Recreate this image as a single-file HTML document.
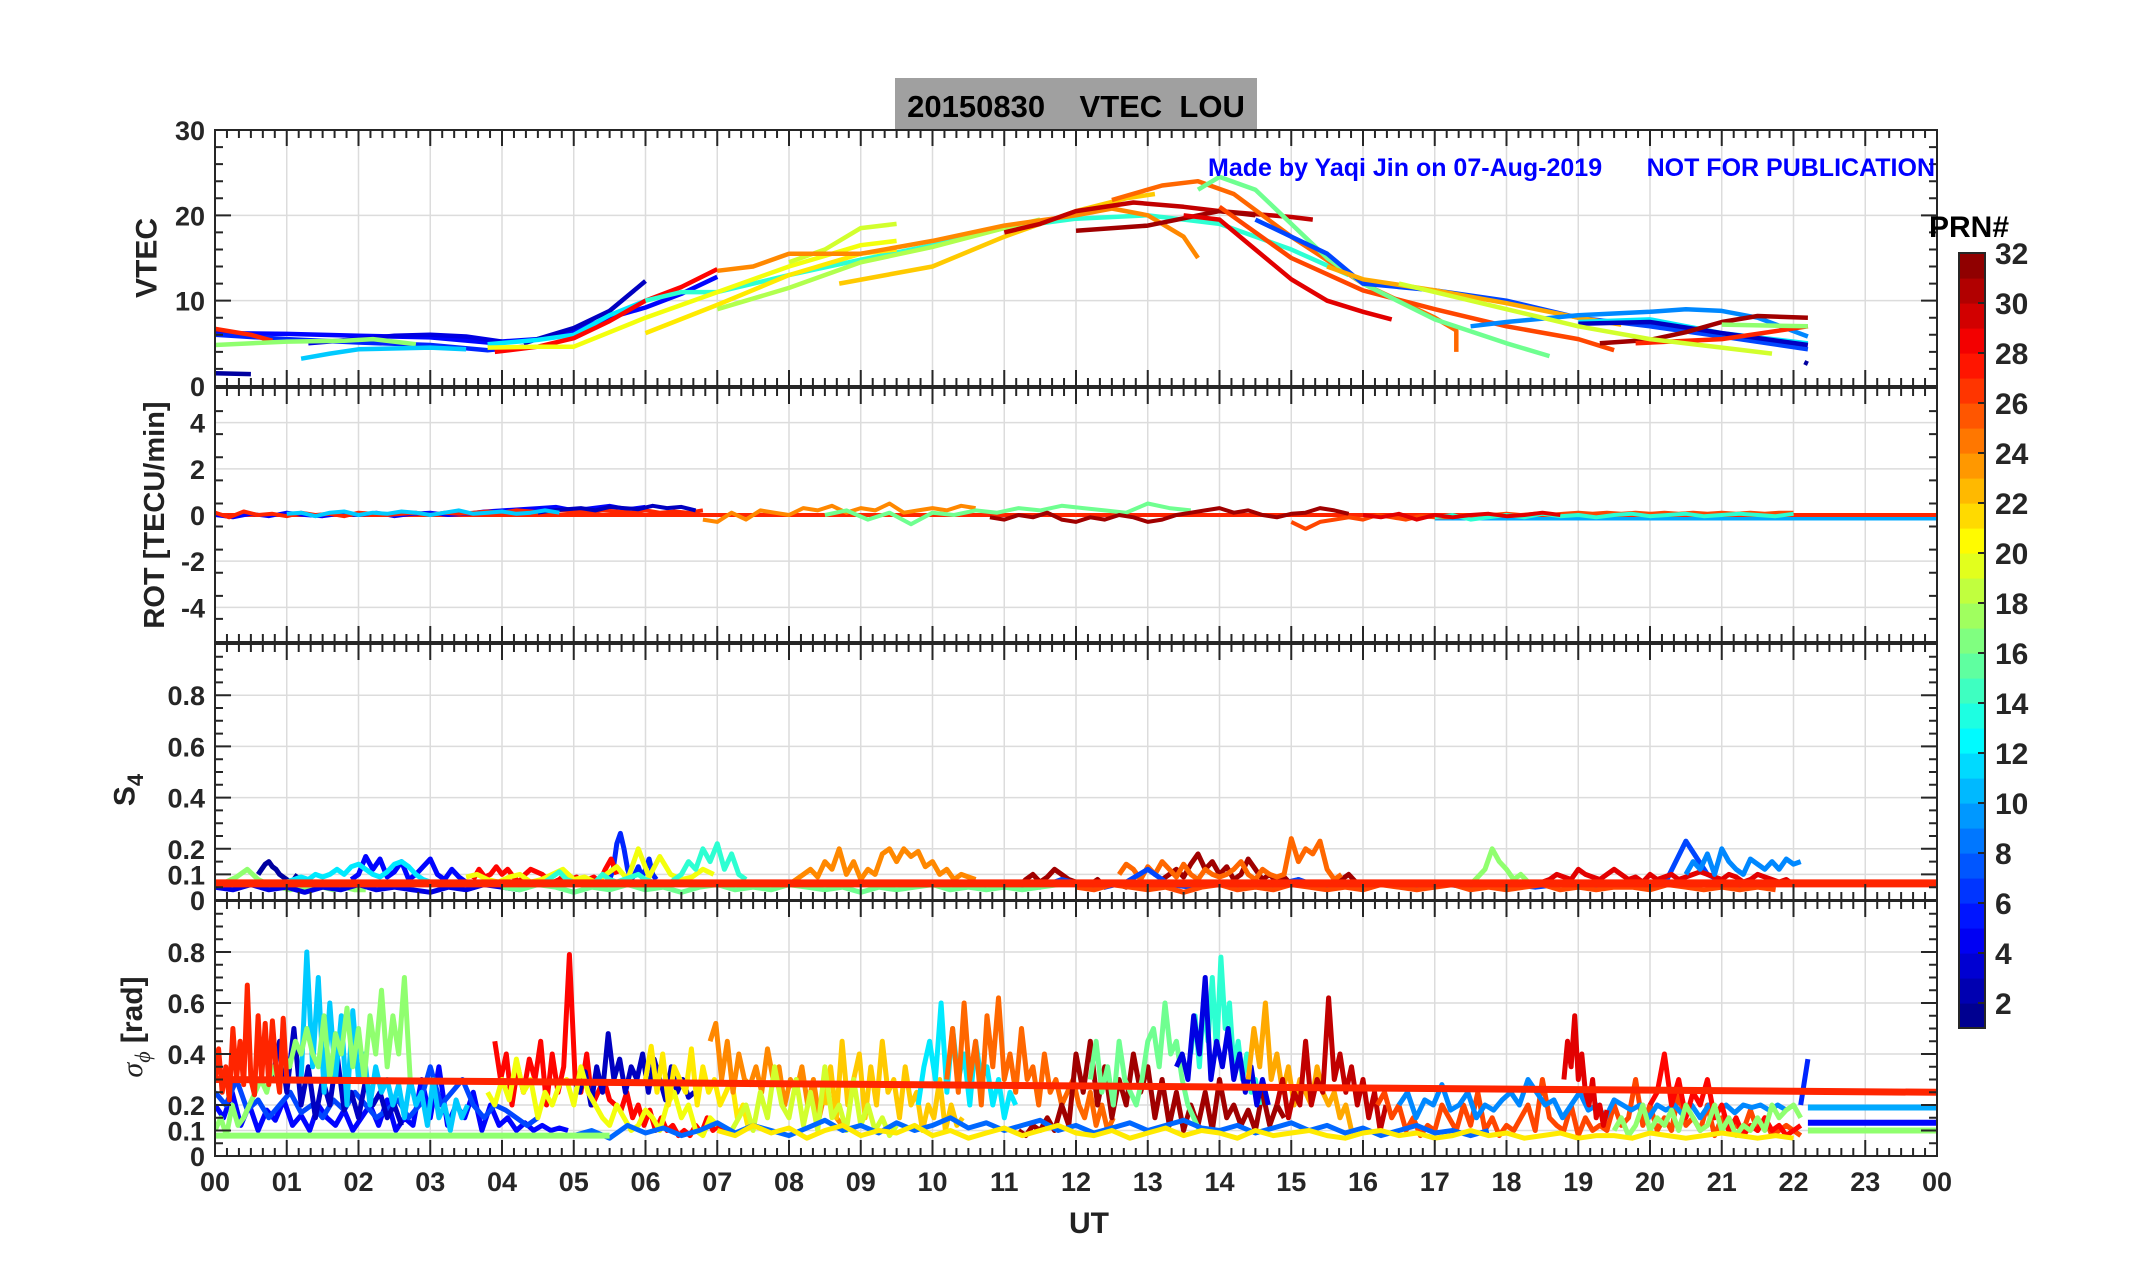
<!DOCTYPE html>
<html><head><meta charset="utf-8"><style>
html,body{margin:0;padding:0;background:#fff;}
svg{display:block;font-family:"Liberation Sans",Arial,sans-serif;}
</style></head><body>
<svg id="fig" width="2153" height="1286" viewBox="0 0 2153 1286" xmlns="http://www.w3.org/2000/svg">
<rect x="0" y="0" width="2153" height="1286" fill="#fff"/>
<rect x="895" y="78" width="362" height="52" fill="#a0a0a0"/>
<text x="1076" y="117" text-anchor="middle" font-size="31" font-weight="bold" fill="#000" xml:space="preserve">20150830    VTEC  LOU</text>
<g id="plots"></g>
<text x="1208" y="176" font-size="25" font-weight="bold" fill="#0000ff">Made by Yaqi Jin on 07-Aug-2019</text>
<text x="1935" y="176" text-anchor="end" font-size="25" font-weight="bold" fill="#0000ff">NOT FOR PUBLICATION</text>
<text x="147" y="258" transform="rotate(-90 147 258)" text-anchor="middle" dominant-baseline="central" font-size="30" font-weight="bold" fill="#222">VTEC</text>
<text x="155" y="515" transform="rotate(-90 155 515)" text-anchor="middle" dominant-baseline="central" font-size="29" font-weight="bold" fill="#222">ROT [TECU/min]</text>
<text x="125" y="790" transform="rotate(-90 125 790)" text-anchor="middle" dominant-baseline="central" font-size="30" font-weight="bold" fill="#222">S<tspan font-size="22" dy="10">4</tspan></text>
<text x="132" y="1027" transform="rotate(-90 132 1027)" text-anchor="middle" dominant-baseline="central" font-size="30" font-weight="bold" fill="#222"><tspan font-family="Liberation Serif" font-style="italic" font-weight="normal">σ</tspan><tspan font-family="Liberation Serif" font-style="italic" font-weight="normal" font-size="22" dy="10">ϕ</tspan><tspan dy="-10"> [rad]</tspan></text>
<text x="1089" y="1233" text-anchor="middle" font-size="30" font-weight="bold" fill="#222">UT</text>
<text x="1969" y="237" text-anchor="middle" font-size="30" font-weight="bold" fill="#000">PRN#</text>
<g id="cbar"></g>
</svg>
<script>
const hourLabels=["00","01","02","03","04","05","06","07","08","09","10","11","12","13","14","15","16","17","18","19","20","21","22","23","00"];
const vtecTicks=[0,10,20,30];
const rotTicks=[-4,-2,0,2,4];
const s4Ticks=[0,0.1,0.2,0.4,0.6,0.8];
const sigTicks=[0,0.1,0.2,0.4,0.6,0.8];
const cbarTicks=[2,4,6,8,10,12,14,16,18,20,22,24,26,28,30,32];

// VTEC segments: [prn, [[hour, TECU], ...]]
const vtecSeries=[
[2,[[0,1.5],[0.5,1.4]]],
[5,[[0,6.2],[1,6.1],[2,5.9],[3,5.7],[3.8,5.1],[4.5,5.5],[5,6.5],[5.5,8],[6,9.2],[6.5,10.8],[7,12.8]]],
[4,[[1.3,5],[2,5.5],[2.5,5.9],[3,6],[3.5,5.8],[4,5.2]]],
[6,[[0,6],[1,5.5],[2,5.1],[3,4.8],[3.8,4.2],[4.3,4.6]]],
[3,[[4.3,5],[5,6.8],[5.5,8.8],[6,12.3]]],
[27,[[0,6.7],[0.5,6],[0.8,5.3]]],
[17,[[0,4.8],[1,5.2],[1.8,5.3],[2.2,5.5],[2.8,4.9]]],
[11,[[1.2,3.2],[1.6,3.8],[2,4.3],[3,4.5],[3.5,4.3]]],
[12,[[3.8,4.9],[4.5,5.4],[5,6],[5.5,8.3],[6,10]]],
[28,[[3.9,4],[4.5,4.6],[5,5.6],[5.5,7.6],[6,10],[6.5,11.6],[7,13.7]]],
[14,[[6,10],[6.5,11],[7,11],[8,13],[9,14.8],[10,16.5],[11,18.5],[12,19.6],[13,20],[14,19],[15,16],[15.8,13]]],
[20,[[3.8,4.5],[4.5,4.6],[5,4.6],[6,8],[7,11],[8,14],[9,16.5],[9.5,17]]],
[21,[[6,6.2],[7,9.5],[8,13],[9,15.5],[9.5,16]]],
[19,[[8,14.5],[8.5,16],[9,18.5],[9.5,19]]],
[18,[[7,9],[8,11.5],[9,14.5],[10,16.3],[11,18.5],[11.5,19.5]]],
[24,[[7,13.5],[7.5,14],[8,15.5],[9,15.5],[10,17],[11,18.8],[12,20],[12.5,20.8],[13,20],[13.5,17.5],[13.7,15]]],
[22,[[8.7,12],[10,14],[11,17.5],[12,20.5],[12.7,22],[13.1,22.5]]],
[30,[[11,18],[11.5,19],[12,20.5],[12.8,21.5],[13.5,21],[14,20.5],[15,19.8],[15.3,19.5]]],
[31,[[12,18.2],[13,18.8],[14,20.5],[14.5,20]]],
[25,[[12.5,21.8],[13.2,23.5],[13.7,24],[14.2,22.5],[15,17.5],[16,12],[17,8],[17.3,6.5],[17.3,4]]],
[26,[[14,21],[15,15],[16,11.2],[17,9],[18,7],[19,5.5],[19.5,4.2]]],
[16,[[13.7,23],[14,24.5],[14.5,23],[15,19],[15.5,15],[16,12],[17,7.8],[18,5],[18.6,3.5]]],
[29,[[13.5,20],[14,19.5],[14.5,16],[15,12.5],[15.5,10],[16,8.7],[16.4,7.8]]],
[7,[[14.5,19.5],[15,17.5],[15.5,15.5],[16,12],[17,11.2],[18,10],[19,8],[20,7],[21,5.8],[22.2,4.3]]],
[23,[[15.5,14],[16,12.5],[17,11.2],[18,9.7],[19,8],[19.6,7.2]]],
[9,[[17.5,7],[18,7.5],[19,8.3],[20,8.7],[20.5,9],[21,8.8],[21.5,8],[22.2,5.8]]],
[12,[[19,7.5],[20,7.8],[21,6.2],[22.2,5]]],
[3,[[19,7.3],[20,7.5],[21,6.2],[22.2,4.8]]],
[31,[[19.3,5],[20,5.4],[20.5,6.3],[21,7.5],[21.5,8.2],[22.2,8]]],
[27,[[19.8,5],[21,5.5],[22.2,7]]],
[17,[[21,7.2],[22.2,7]]],
[19,[[16.5,12],[17,11],[18,9],[19,7],[20,5.5],[21,4.5],[21.7,3.8]]],
[2,[[22.15,2.8],[22.2,2.6]]]
];

// ROT segments: prn, start hour, step hour, values
const rotPrn=[5,27,3,24,16,31,26,14,29,11];
const rotStart=[0,0,4.5,6.8,8.5,10.8,15,17,16,1];
const rotStep=[0.25,0.2,0.2,0.2,0.3,0.2,0.2,0.25,0.25,0.2];
const rotVals=[
[0,-0.1,0.05,-0.05,0.1,0,-0.05,0.05,0,0.1,-0.05,0.05,0.1,0,0.05,0.15,0.2,0.25,0.3,0.35,0.2,0.3,0.4,0.25,0.35],
[0.1,-0.1,0.15,0,0.05,-0.05,0.1,0,0.05,-0.05,0.1,0.05,0,0.05,0.1,0,0.1,0.05,0.1,0.15,0.1,0.2,0.15,0.1,0.2,0.15,0.1,0.2,0.15,0.1,0.2,0.1,0.15,0.1,0.2],
[0.1,0.2,0.25,0.3,0.2,0.35,0.3,0.25,0.4,0.3,0.35,0.2],
[-0.2,-0.3,0.1,-0.2,0.2,0.1,0,0.3,0.2,0.4,0.1,0.3,0.2,0.5,0.1,0.2,0.3,0.2,0.4,0.3],
[0,0.2,-0.2,0.1,-0.4,0.1,0,0.2,0.1,0.3,0.2,0.4,0.3,0.2,0.1,0.5,0.3,0.2],
[-0.1,-0.2,0,-0.1,0.1,-0.2,-0.3,-0.1,-0.2,0,-0.1,-0.3,-0.2,0,0.1,0.2,0.3,0.1,0.2,0,-0.1,0.05,0.1,0.3,0.2,0.05],
[-0.3,-0.6,-0.3,-0.2,-0.1,-0.2,0,-0.1,-0.2,-0.05,-0.1,-0.1,0,-0.05,0,0.05,0,0.05,0,0.05,0.1,0.05,0.1,0.05,0.1,0.05,0.1,0.05,0.1,0.05,0.1,0.05,0.1,0.05,0.1,0.1],
[-0.1,0,-0.2,-0.1,0,-0.1,0.05,-0.05,0,-0.1,0,0.05,-0.05,0,0.05,-0.05,0,0.05,0,-0.05,0.05],
[0,-0.1,0.05,-0.2,0,-0.1,0,0.05,-0.05,0,0.1,0],
[0.05,0.1,-0.05,0.1,0.15,0,0.1,0.05,0.15,0.1,0,0.1,0.2,0.05,0.1,0.15,0.05,0.1,0.2,0.1]
];
const rotFlatPrn=[10,27];
const rotFlatStart=[17,0];
const rotFlatVal=[-0.15,0];

// S4 segments
const s4Prn=[2,5,6,12,17,28,20,14,24,31,25,7,29,17,9,4,16,26];
const s4Start=[0.6,1.9,5.5,1.0,0,3.6,3.5,4.6,8,11,12.6,10.3,18.5,17.5,20.5,0,4,12];
const s4Step=[0.05,0.1,0.05,0.1,0.15,0.08,0.15,0.1,0.1,0.1,0.1,0.3,0.1,0.1,0.1,0.25,0.25,0.25];
const s4Vals=[
[0.1,0.12,0.14,0.15,0.13,0.12,0.1,0.09,0.08,0.07,0.08,0.1],
[0.08,0.1,0.17,0.12,0.16,0.09,0.11,0.15,0.08,0.1,0.13,0.16,0.1,0.08,0.12,0.09,0.07,0.06],
[0.08,0.12,0.22,0.26,0.2,0.12,0.08,0.1,0.13,0.09,0.12,0.16,0.1,0.08],
[0.07,0.08,0.09,0.08,0.1,0.09,0.1,0.12,0.1,0.13,0.14,0.12,0.1,0.09,0.11,0.14,0.15,0.13,0.1,0.08,0.07],
[0.05,0.07,0.09,0.12,0.08,0.06,0.05,0.04,0.05,0.04,0.05,0.04,0.05,0.04,0.04],
[0.08,0.12,0.09,0.1,0.13,0.1,0.12,0.09,0.07,0.1,0.12,0.11,0.1,0.08,0.07,0.08,0.1,0.08,0.09,0.06,0.08,0.09,0.07,0.12,0.16,0.1],
[0.09,0.1,0.08,0.07,0.09,0.1,0.07,0.08,0.1,0.12,0.08,0.09,0.07,0.1,0.13,0.08,0.2,0.09,0.17,0.1,0.08,0.09,0.12,0.1],
[0.07,0.09,0.11,0.08,0.07,0.06,0.05,0.07,0.1,0.08,0.07,0.08,0.09,0.1,0.08,0.07,0.06,0.05,0.08,0.1,0.15,0.12,0.2,0.15,0.22,0.12,0.18,0.1,0.08],
[0.06,0.08,0.1,0.12,0.09,0.15,0.12,0.2,0.1,0.15,0.08,0.12,0.1,0.18,0.2,0.15,0.2,0.17,0.19,0.13,0.15,0.1,0.12,0.08,0.1,0.09,0.08],
[0.06,0.07,0.05,0.08,0.1,0.07,0.09,0.12,0.1,0.08,0.07,0.05,0.06,0.08,0.05,0.07,0.06,0.05,0.06,0.05,0.07,0.06,0.08,0.1,0.12,0.09,0.14,0.18,0.12,0.15,0.1,0.13,0.08,0.1,0.16,0.12,0.08,0.1,0.07,0.09,0.06,0.08,0.06,0.05,0.07,0.06,0.05,0.08,0.1,0.07],
[0.1,0.14,0.12,0.08,0.13,0.1,0.15,0.12,0.09,0.14,0.1,0.08,0.12,0.1,0.09,0.1,0.12,0.15,0.1,0.08,0.12,0.1,0.09,0.1,0.24,0.15,0.2,0.18,0.23,0.12,0.08,0.1],
[0.06,0.05,0.07,0.06,0.05,0.08,0.06,0.05,0.07,0.12,0.06,0.05,0.07,0.06,0.05,0.06,0.08,0.05,0.06,0.05,0.07,0.06,0.05,0.06,0.05,0.07,0.06,0.05,0.06,0.07,0.05,0.06,0.05,0.06,0.23,0.1,0.06,0.05,0.07,0.06],
[0.07,0.08,0.1,0.09,0.08,0.12,0.1,0.09,0.08,0.1,0.12,0.1,0.08,0.09,0.07,0.1,0.08,0.09,0.1,0.08,0.09,0.1,0.11,0.1,0.09,0.08,0.1,0.09,0.07,0.08,0.1,0.09,0.08,0.07,0.08,0.06,0.07],
[0.06,0.09,0.12,0.2,0.15,0.12,0.08,0.1,0.07,0.06],
[0.1,0.15,0.12,0.18,0.1,0.2,0.15,0.12,0.1,0.16,0.14,0.12,0.15,0.12,0.16,0.14,0.15],
[0.05,0.04,0.06,0.04,0.05,0.03,0.05,0.04,0.06,0.04,0.05,0.04,0.03,0.05,0.04,0.06,0.05,0.04],
[0.05,0.04,0.06,0.05,0.03,0.05,0.04,0.06,0.04,0.05,0.03,0.05,0.06,0.04,0.05,0.04,0.06,0.05,0.04,0.05,0.03,0.05,0.04,0.05,0.06,0.04,0.05,0.04,0.05,0.04,0.05,0.06],
[0.05,0.04,0.06,0.05,0.04,0.05,0.03,0.05,0.06,0.04,0.05,0.04,0.06,0.05,0.04,0.05,0.04,0.06,0.05,0.04,0.05,0.06,0.04,0.05,0.04,0.05,0.06,0.04,0.05,0.04,0.05,0.05,0.04,0.06,0.05,0.04,0.05,0.04,0.05,0.04]
];
const s4FlatPrn=[27];
const s4FlatStart=[0];
const s4FlatVal=[0.065];

// sigma-phi segments
const sigPrn=[5,7,3,11,17,27,28,3,20,21,24,22,19,12,25,31,16,14,4,23,30,26,9,29,28,17,6,8,21];
const sigStart=[0,0,0.8,1.2,0,0,3.9,5,3.8,6,6.9,8.5,7.2,9.8,10.2,11.2,12.2,13.6,13.4,14.4,14.8,16.2,16.5,18.8,20,19.5,22.1,5,7];
const sigStep=[0.12,0.15,0.1,0.08,0.08,0.05,0.08,0.08,0.1,0.08,0.08,0.08,0.1,0.08,0.08,0.1,0.08,0.06,0.08,0.08,0.08,0.1,0.12,0.05,0.1,0.1,0.1,0.25,0.25];
const sigVals=[
[0.2,0.15,0.25,0.12,0.2,0.1,0.18,0.14,0.22,0.12,0.16,0.1,0.2,0.15,0.12,0.18,0.1,0.15,0.2,0.12,0.22,0.1,0.15,0.12,0.3,0.15,0.35,0.12,0.2,0.15,0.25,0.1,0.2,0.12,0.15,0.1,0.13,0.1,0.12,0.1,0.11,0.1],
[0.25,0.2,0.3,0.18,0.22,0.15,0.2,0.25,0.17,0.2,0.15,0.22,0.18,0.25,0.2,0.15,0.18,0.22,0.15,0.2,0.35,0.2,0.25,0.3,0.2,0.15,0.2,0.18,0.15,0.12,0.15],
[0.3,0.45,0.25,0.5,0.2,0.35,0.15,0.3,0.2,0.4,0.18,0.25,0.15,0.3,0.2,0.25,0.15,0.2,0.12],
[0.3,0.8,0.35,0.7,0.25,0.6,0.3,0.55,0.2,0.57,0.3,0.4,0.2,0.35,0.25,0.3,0.2,0.28,0.15,0.3,0.2,0.25,0.12,0.3,0.15,0.2,0.1,0.22,0.15,0.2],
[0.1,0.15,0.08,0.2,0.12,0.15,0.2,0.25,0.3,0.25,0.35,0.3,0.4,0.35,0.45,0.4,0.5,0.4,0.35,0.55,0.3,0.48,0.4,0.58,0.35,0.5,0.3,0.55,0.4,0.65,0.35,0.55,0.4,0.7,0.3],
[0.3,0.42,0.25,0.35,0.22,0.5,0.3,0.45,0.28,0.67,0.3,0.24,0.55,0.3,0.52,0.28,0.53,0.35,0.25,0.54,0.3],
[0.45,0.3,0.4,0.2,0.35,0.25,0.38,0.3,0.45,0.2,0.4,0.25,0.35,0.79,0.3,0.25,0.4,0.2,0.25,0.3,0.22,0.2,0.18,0.25,0.15,0.2,0.12,0.18,0.1,0.15,0.1,0.12,0.08,0.1,0.08,0.12,0.09,0.15,0.1,0.12,0.09],
[0.3,0.25,0.33,0.2,0.35,0.25,0.48,0.3,0.38,0.25,0.35,0.3,0.4,0.25,0.38,0.3,0.22,0.35,0.25,0.3,0.23,0.25],
[0.25,0.2,0.3,0.22,0.38,0.25,0.3,0.15,0.25,0.2,0.28,0.3,0.2,0.35,0.25,0.2,0.15,0.12,0.2,0.15,0.1,0.12,0.18,0.15,0.1,0.2,0.25,0.15,0.2,0.1,0.08,0.15,0.12],
[0.3,0.43,0.25,0.4,0.2,0.35,0.3,0.25,0.42,0.2,0.35,0.25,0.3,0.2,0.25,0.3,0.15,0.2,0.1],
[0.45,0.52,0.3,0.45,0.25,0.4,0.3,0.28,0.35,0.25,0.42,0.3,0.35,0.2,0.3,0.25,0.35,0.2,0.3,0.15,0.25,0.2,0.15,0.12,0.1],
[0.2,0.35,0.15,0.45,0.2,0.3,0.4,0.15,0.35,0.2,0.45,0.25,0.3,0.15,0.35,0.2,0.25,0.1,0.2,0.15,0.3,0.1,0.2,0.12,0.15],
[0.1,0.15,0.2,0.1,0.25,0.15,0.35,0.2,0.15,0.3,0.12,0.25,0.1,0.35,0.15,0.2,0.1,0.3,0.12,0.2,0.1,0.15,0.08,0.12],
[0.2,0.35,0.45,0.3,0.6,0.25,0.5,0.3,0.4,0.2,0.45,0.3,0.35,0.2,0.3,0.15,0.25,0.2],
[0.3,0.5,0.25,0.6,0.3,0.45,0.2,0.55,0.35,0.62,0.3,0.4,0.25,0.5,0.3,0.35,0.2,0.4,0.25,0.3,0.2,0.25,0.3,0.2,0.15,0.25,0.12,0.2,0.1,0.15],
[0.1,0.08,0.12,0.1,0.15,0.1,0.2,0.12,0.4,0.25,0.45,0.2,0.35,0.15,0.3,0.2,0.4,0.25,0.35,0.15,0.3,0.12,0.25,0.1,0.2,0.12,0.25,0.1,0.3,0.15,0.2,0.12,0.18,0.1,0.25,0.12,0.2,0.15],
[0.3,0.45,0.25,0.35,0.2,0.45,0.3,0.25,0.2,0.3,0.45,0.5,0.35,0.6,0.4,0.45,0.3,0.2,0.15,0.1],
[0.4,0.55,0.35,0.6,0.45,0.7,0.4,0.78,0.5,0.6,0.35,0.45,0.3,0.4,0.25,0.3,0.2],
[0.35,0.4,0.3,0.55,0.4,0.7,0.3,0.45,0.35,0.5,0.3,0.4,0.25,0.35,0.2,0.3,0.2],
[0.3,0.5,0.35,0.6,0.3,0.4,0.25,0.35,0.2,0.3,0.25,0.2,0.35,0.25,0.2,0.25,0.15,0.2,0.1],
[0.2,0.3,0.15,0.25,0.2,0.45,0.2,0.3,0.25,0.62,0.3,0.4,0.25,0.35,0.2,0.3,0.15,0.25,0.1,0.2],
[0.2,0.25,0.15,0.2,0.1,0.15,0.08,0.12,0.1,0.2,0.15,0.1,0.2,0.12,0.25,0.1,0.15,0.08,0.12,0.1,0.15,0.2,0.1,0.3,0.15,0.12,0.1,0.2,0.08,0.15,0.1,0.12,0.1,0.2,0.12,0.15,0.3,0.12,0.2,0.1,0.15,0.1,0.25,0.12,0.15,0.1,0.2,0.08,0.15,0.1,0.12,0.1,0.18,0.1,0.15,0.08,0.1,0.12,0.1,0.08],
[0.2,0.25,0.15,0.22,0.2,0.28,0.18,0.2,0.25,0.15,0.2,0.18,0.22,0.25,0.2,0.3,0.25,0.2,0.22,0.15,0.2,0.25,0.18,0.2,0.15,0.22,0.2,0.18,0.2,0.15,0.2,0.18,0.2,0.16,0.2,0.15,0.2,0.18,0.2,0.17,0.2,0.19,0.2,0.18,0.2,0.18],
[0.3,0.45,0.35,0.55,0.3,0.4,0.25,0.2,0.3,0.15,0.2,0.12,0.18],
[0.2,0.25,0.4,0.2,0.3,0.15,0.25,0.2,0.3,0.15,0.2,0.1,0.15,0.08,0.12,0.1,0.15,0.1,0.12,0.08,0.1,0.12],
[0.1,0.15,0.08,0.12,0.2,0.1,0.15,0.12,0.18,0.1,0.2,0.15,0.1,0.12,0.2,0.1,0.15,0.08,0.12,0.1,0.15,0.1,0.2,0.15,0.18,0.2,0.15],
[0.2,0.38],
[0.08,0.1,0.07,0.12,0.09,0.11,0.08,0.1,0.13,0.09,0.12,0.1,0.08,0.11,0.14,0.1,0.12,0.09,0.13,0.1,0.12,0.15,0.11,0.13,0.1,0.12,0.14,0.1,0.12,0.09,0.11,0.13,0.1,0.12,0.14,0.11,0.1,0.12,0.09,0.11,0.13,0.1,0.12,0.09,0.11,0.08,0.1,0.12,0.09,0.1,0.08,0.1],
[0.1,0.08,0.12,0.09,0.11,0.07,0.1,0.12,0.08,0.1,0.09,0.12,0.08,0.1,0.07,0.09,0.11,0.08,0.1,0.12,0.09,0.08,0.1,0.07,0.09,0.11,0.08,0.1,0.09,0.07,0.1,0.08,0.09,0.1,0.08,0.07,0.09,0.1,0.08,0.09,0.07,0.08,0.1,0.08,0.09,0.07,0.08,0.09,0.07,0.08,0.08,0.07,0.09,0.08,0.07,0.08,0.09,0.08,0.07,0.08,0.07]
];
const sigFlatPrn=[17,17,5,10,27];
const sigFlatStart=[0,22.2,22.2,22.2,0];
const sigFlatEnd=[5.5,24,24,24,24];
const sigFlatV0=[0.08,0.1,0.13,0.19,0.3];
const sigFlatV1=[0.08,0.1,0.13,0.19,0.25];

const NS="http://www.w3.org/2000/svg";
const L=215,R=1937;
const panels=[
 {name:"vtec",top:130,bot:386,min:0,max:30,ticks:vtecTicks,minor:2},
 {name:"rot",top:388,bot:642,min:-5.5,max:5.5,ticks:rotTicks,minor:1},
 {name:"s4",top:644,bot:900,min:0,max:1,ticks:s4Ticks,minor:0.05},
 {name:"sigma",top:901,bot:1156,min:0,max:1,ticks:sigTicks,minor:0.05}
];
function xs(h){return L+(R-L)*h/24;}
function ys(p,v){return p.bot-(p.bot-p.top)*(v-p.min)/(p.max-p.min);}
function jet(v){
 function c(x){return Math.max(0,Math.min(1,x));}
 const r=c(1.5-Math.abs(4*v-3)),g=c(1.5-Math.abs(4*v-2)),b=c(1.5-Math.abs(4*v-1));
 return "rgb("+Math.round(r*255)+","+Math.round(g*255)+","+Math.round(b*255)+")";
}
function prnColor(p){return jet((p-1)/31);}
function mk(tag,attrs,parent){const e=document.createElementNS(NS,tag);for(const k in attrs)e.setAttribute(k,attrs[k]);parent.appendChild(e);return e;}
const root=document.getElementById("plots");

panels.forEach(function(p){
 const g=mk("g",{},root);
 
 
 for(let h=1;h<24;h++){
  const l=mk("line",{x1:xs(h),x2:xs(h),y1:p.top,y2:p.bot,stroke:"#dcdcdc","stroke-width":1.5},g);
  
  
 }
 p.ticks.forEach(function(t){
  if(t===p.min)return;
  const l=mk("line",{x1:L,x2:R,y1:ys(p,t),y2:ys(p,t),stroke:"#dcdcdc","stroke-width":1.5},g);
  
  
 });
 p.g=g;
});

function drawLine(p,pts,prn,w,name){
 const d=pts.map(function(q,i){return (i?"L":"M")+xs(q[0]).toFixed(1)+" "+ys(p,q[1]).toFixed(1);}).join("");
 const e=mk("path",{d:d,fill:"none",stroke:prnColor(prn),"stroke-width":w,"stroke-linejoin":"round","stroke-linecap":"butt"},p.g);
 
 
}
function seq(start,step,vals){return vals.map(function(v,i){return [start+i*step,v];});}

panels.forEach(function(p){
 const cid="clip-"+p.name;
 const cp=mk("clipPath",{id:cid},root);
 mk("rect",{x:L,y:p.top,width:R-L,height:p.bot-p.top},cp);
 const gg=mk("g",{"clip-path":"url(#"+cid+")"},p.g);
 
 
 p.g=gg;
});

vtecSeries.forEach(function(s){drawLine(panels[0],s[1],s[0],4.5,'vtec-prn-'+s[0]);});
rotFlatPrn.forEach(function(prn,i){drawLine(panels[1],[[rotFlatStart[i],rotFlatVal[i]],[24,rotFlatVal[i]]],prn,4,'rot-baseline');});
rotPrn.forEach(function(prn,i){drawLine(panels[1],seq(rotStart[i],rotStep[i],rotVals[i]),prn,4,'rot-prn-'+prn);});
s4Prn.forEach(function(prn,i){drawLine(panels[2],seq(s4Start[i],s4Step[i],s4Vals[i]),prn,5,'s4-prn-'+prn);});
s4FlatPrn.forEach(function(prn,i){drawLine(panels[2],[[s4FlatStart[i],s4FlatVal[i]],[24,s4FlatVal[i]]],prn,8,'s4-mean-line');});
sigPrn.forEach(function(prn,i){drawLine(panels[3],seq(sigStart[i],sigStep[i],sigVals[i]),prn,5,'sigma-prn-'+prn);});
sigFlatPrn.forEach(function(prn,i){drawLine(panels[3],[[sigFlatStart[i],sigFlatV0[i]],[sigFlatEnd[i],sigFlatV1[i]]],prn,i===4?7:6,'sigma-mean-line');});

panels.forEach(function(p,pi){
 const g=p.g.parentNode;
 const box=mk("rect",{x:L,y:p.top,width:R-L,height:p.bot-p.top,fill:"none",stroke:"#262626","stroke-width":2},g);
 
 
 let d="";
 for(let m=0;m<=144;m++){
  const x=xs(m/6);const major=(m%6===0);const len=major?16:8;
  d+="M"+x+" "+p.top+"v"+len+"M"+x+" "+p.bot+"v"+(-len);
 }
 for(let v=p.min;v<=p.max+1e-9;v+=p.minor){
  const y=ys(p,v);const major=p.ticks.some(function(t){return Math.abs(t-v)<1e-6;});const len=major?16:8;
  d+="M"+L+" "+y+"h"+len+"M"+R+" "+y+"h"+(-len);
 }
 const tk=mk("path",{d:d,stroke:"#262626","stroke-width":2,fill:"none"},g);
 
 
 p.ticks.forEach(function(t){
  const tx=mk("text",{x:L-10,y:ys(p,t)+10,"text-anchor":"end","font-size":27,"font-weight":"bold",fill:"#262626"},g);
  tx.textContent=String(t);
  
  
 });
 if(pi===3){
  hourLabels.forEach(function(lab,i){
   const tx=mk("text",{x:xs(i),y:1191,"text-anchor":"middle","font-size":27,"font-weight":"bold",fill:"#262626"},g);
   tx.textContent=lab;
   
   
  });
 }
});

const cb=document.getElementById("cbar");


const cbTop=253,cbBot=1028,cbX=1959,cbW=26;
function cy(v){return cbBot-(cbBot-cbTop)*(v-1)/31;}
for(let k=0;k<31;k++){
 const r=mk("rect",{x:cbX,y:cy(k+2),width:cbW,height:cy(k+1)-cy(k+2)+0.6,fill:jet((k+0.5)/31)},cb);
 
 
}
const cbo=mk("rect",{x:cbX,y:cbTop,width:cbW,height:cbBot-cbTop,fill:"none",stroke:"#262626","stroke-width":2},cb);


cbarTicks.forEach(function(t){
 const l=mk("line",{x1:cbX+cbW-7,x2:cbX+cbW,y1:cy(t),y2:cy(t),stroke:"#262626","stroke-width":2},cb);
 
 
 const tx=mk("text",{x:cbX+cbW+10,y:cy(t)+11,"font-size":30,"font-weight":"bold",fill:"#262626"},cb);
 tx.textContent=String(t);
 
 
});
</script>
</body></html>
